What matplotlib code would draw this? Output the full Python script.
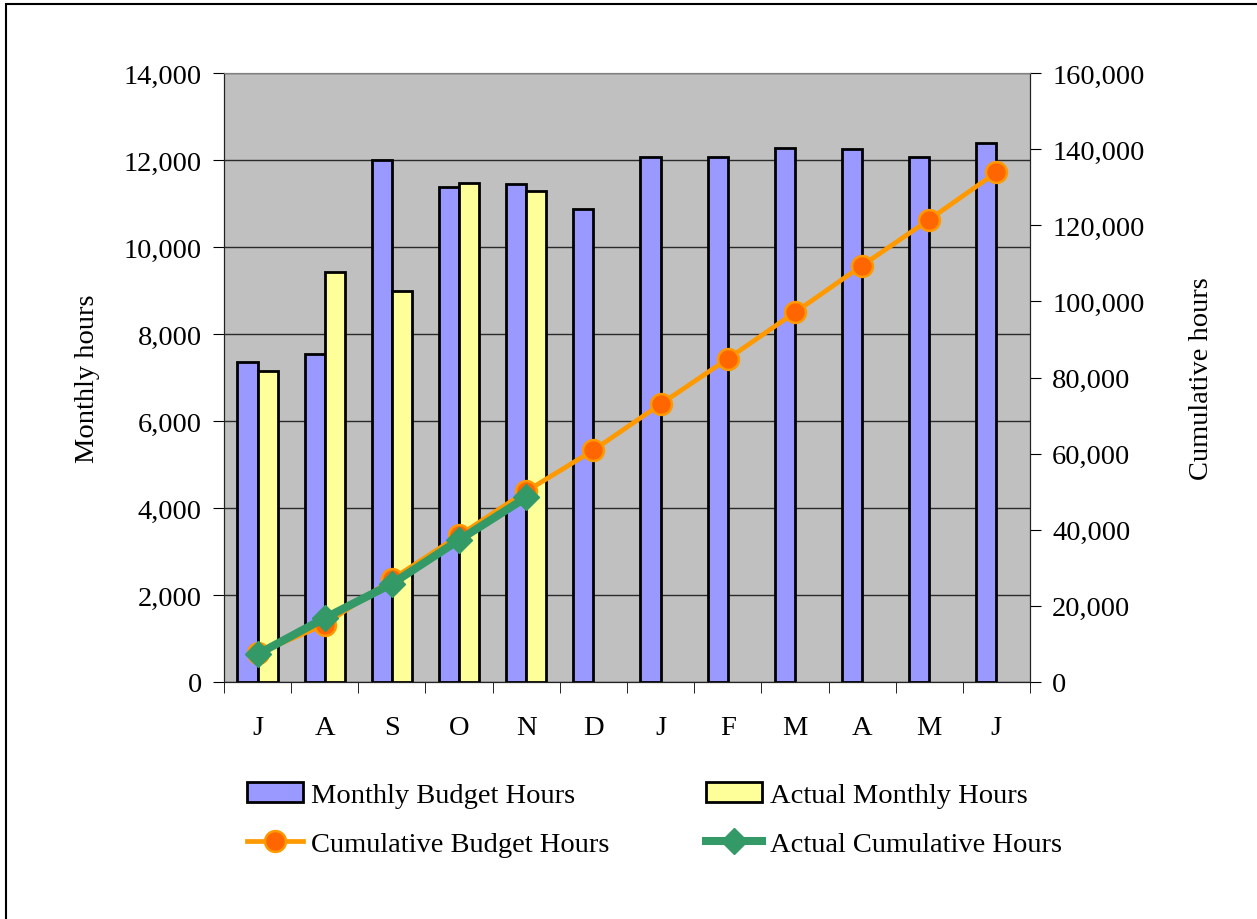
import matplotlib.pyplot as plt
import matplotlib.patches as mpatches
import numpy as np

# months of the fiscal year (July - June)
months = ["J", "A", "S", "O", "N", "D", "J", "F", "M", "A", "M", "J"]

budget_monthly = [7350, 7550, 12000, 11370, 11440, 10870, 12060, 12070, 12270, 12250, 12080, 12400]
actual_monthly = [7150, 9420, 9000, 11460, 11280]
budget_cumulative = [7500, 15100, 27000, 38500, 50100, 60900, 73000, 84900, 97100, 109400, 121500, 133900]
actual_cumulative = [7300, 16800, 25800, 37300, 48500]

plt.rcParams['font.family'] = ['Liberation Serif', 'DejaVu Serif']
fs = 20.5

fig = plt.figure(figsize=(12.57, 9.2), dpi=100)
ax = fig.add_axes([224 / 1257, 1 - 683 / 920, 806 / 1257, 609 / 920])
ax2 = ax.twinx()

x = np.arange(len(months))
xa = np.arange(len(actual_monthly))
w = 0.3

ax.set_facecolor('#C0C0C0')
ax.bar(x - w / 2, budget_monthly, width=w, color='#9999FF', edgecolor='black', linewidth=2,
       label='Monthly Budget Hours', zorder=3)
ax.bar(xa + w / 2, actual_monthly, width=w, color='#FFFF99', edgecolor='black', linewidth=2,
       label='Actual Monthly Hours', zorder=3)

ax.set_xlim(-0.5, 11.5)
ax.set_ylim(0, 14000)
ax.set_yticks(np.arange(0, 14001, 2000))
ax.set_yticklabels([f"{v:,}" for v in range(0, 14001, 2000)])
ax.grid(axis='y', color='#2a2a2a', linewidth=1, zorder=0)
ax.set_axisbelow(True)
ax.set_xticks(x)
ax.set_xticklabels(months)
ax.set_xticks(np.arange(-0.5, 12, 1), minor=True)
ax.tick_params(axis='x', which='major', length=0, pad=24, labelsize=fs)
ax.tick_params(axis='x', which='minor', length=8, direction='out')
ax.tick_params(axis='y', length=8, labelsize=fs, pad=8)
ax.set_ylabel("Monthly hours", fontsize=fs, labelpad=17)

ax2.set_ylim(0, 160000)
ax2.set_yticks(np.arange(0, 160001, 20000))
ax2.set_yticklabels([f"{v:,}" for v in range(0, 160001, 20000)])
ax2.tick_params(axis='y', length=8, labelsize=fs, pad=8)
ax2.set_ylabel("Cumulative hours", fontsize=fs, labelpad=32)

ax2.plot(x, budget_cumulative, color='#FF9900', linewidth=3.4, marker='o', markersize=15,
         markerfacecolor='#FF6600', markeredgecolor='#FF9900', markeredgewidth=1.8,
         label='Cumulative Budget Hours', zorder=4)
ax2.plot(xa, actual_cumulative, color='#339966', linewidth=5.8, marker='D', markersize=13,
         markerfacecolor='#339966', markeredgecolor='#339966',
         label='Actual Cumulative Hours', zorder=5)

for a in (ax, ax2):
    for s in ('left', 'bottom', 'right'):
        a.spines[s].set_color('#222222')
    a.spines['top'].set_color('#808080')

h1, l1 = ax.get_legend_handles_labels()
h2, l2 = ax2.get_legend_handles_labels()
handles = [h1[0], h2[0], h1[1], h2[1]]
labels = [l1[0], l2[0], l1[1], l2[1]]
fig.legend(handles, labels, ncol=2, loc='upper left', bbox_to_anchor=(247 / 1257, 1 - 783 / 920),
           frameon=False, fontsize=fs, handlelength=1.95, handletextpad=0.3, columnspacing=3.4,
           labelspacing=0.8, borderpad=0, borderaxespad=0)

# outer chart border
fig.patches.append(mpatches.Rectangle((6 / 1257, -0.01), 1.01, 1 - 5 / 920 + 0.01,
                                      transform=fig.transFigure, fill=False,
                                      edgecolor='black', linewidth=1.5))

plt.savefig("out.png", dpi=100)
